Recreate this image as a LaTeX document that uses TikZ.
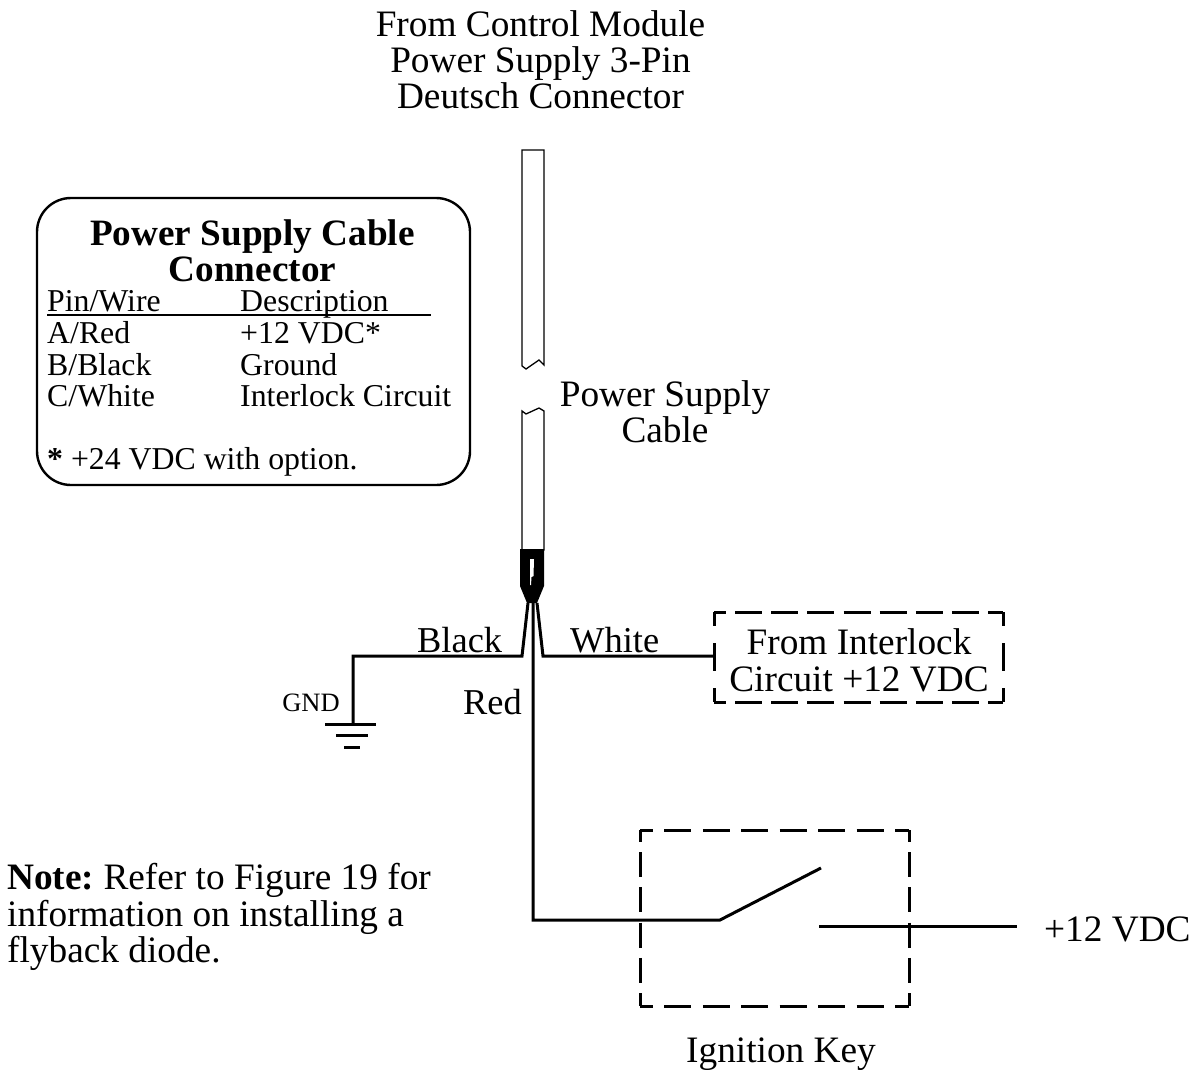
\documentclass[tikz,border=0pt]{standalone}
\usepackage{fontspec}
\setmainfont{Liberation Serif}
\frenchspacing
\begin{document}
\begin{tikzpicture}[x=1pt,y=-1pt,
  lbl/.style={inner sep=0pt,anchor=base,yshift=-0.7pt,font=\fontsize{37.3}{37.3}\selectfont},
  lblw/.style={inner sep=0pt,anchor=base west,yshift=-0.7pt,font=\fontsize{37.3}{37.3}\selectfont},
  wlbl/.style={inner sep=0pt,anchor=base west,yshift=-0.7pt,font=\fontsize{36.4}{36.4}\selectfont},
  tbl/.style={inner sep=0pt,anchor=base west,font=\fontsize{31.8}{31.8}\selectfont},
  ttl/.style={inner sep=0pt,anchor=base,yshift=-0.5pt,font=\fontsize{37.2}{37.2}\selectfont\bfseries},
  wire/.style={line width=3pt,line join=miter},
  cable/.style={line width=1.3pt,line join=miter},
  ikh/.style={draw,line width=3pt,dash pattern=on 27pt off 11.43pt,dash phase=14pt},
  ikv/.style={draw,line width=3pt,dash pattern=on 25pt off 10.2pt,dash phase=13pt},
  ilh/.style={draw,line width=3pt,dash pattern=on 27pt off 9.125pt,dash phase=15pt},
  ilv/.style={draw,line width=3pt,dash pattern=on 28pt off 17pt,dash phase=14pt}]
\useasboundingbox (0,0) rectangle (1194,1070);
% top labels
\node[lbl] (t1) at (540.5,36) {From Control Module};
\node[lbl] (t2) at (540.5,72) {Power Supply 3-Pin};
\node[lbl] (t3) at (540.5,108) {Deutsch Connector};
% cable
\coordinate (cabA) at (522,150);
\coordinate (cabB) at (544,150);
\coordinate (cabC) at (522,550);
\coordinate (cabD) at (544,550);
\draw[cable] (522,366) -- (cabA) -- (cabB) -- (544,365) -- (539,360) -- (526,369) -- (522,366);
\draw[cable] (cabC) -- (522,411) -- (526,414) -- (539,408) -- (544,411) -- (cabD) -- cycle;
\node[lbl] (c1) at (665,406) {Power Supply};
\node[lbl] (c2) at (665,442) {Cable};
% table box
\draw[line width=2.4pt,rounded corners=34pt] (37,198) rectangle (470,485);
\node[ttl] (h1) at (252.5,245) {Power Supply Cable};
\node[ttl] (h2) at (252.5,281) {Connector};
\node[tbl] (p0) at (47,311) {Pin/Wire};
\node[tbl] (d0) at (240,311) {Description};
\coordinate (ulA) at (47,315);
\coordinate (ulB) at (431,315);
\draw[line width=1.6pt] (ulA) -- (ulB);
\node[tbl] (p1) at (47,343) {A/Red};
\node[tbl] (d1) at (240,343) {+12 VDC*};
\node[tbl] (p2) at (47,375) {B/Black};
\node[tbl] (d2) at (240,375) {Ground};
\node[tbl] (p3) at (47,406) {C/White};
\node[tbl] (d3) at (240,406) {Interlock Circuit};
\node[tbl] (st) at (47,469) {\textbf{*} +24 VDC with option.};
% boot
\fill (520,549) -- (544,549) -- (544,586) -- (537,603) -- (527,603) -- (520,586) -- cycle;
\fill[white] (530,559) -- (534,559) -- (533.5,576) -- (531.5,577) -- (531,585) -- (530,585) -- cycle;
% wires
\coordinate (blk0) at (528,603);
\coordinate (blk1) at (522,656);
\coordinate (blk2) at (353,656);
\coordinate (gnd) at (353,724);
\draw[wire] (blk0) -- (blk1) -- (blk2) -- (gnd);
\draw[line width=3pt] (325,724) -- (376,724) (336,735) -- (368,735) (344,747) -- (360,747);
\node[inner sep=0pt,anchor=base,font=\fontsize{26.5}{26.5}\selectfont] (gl) at (311,711) {GND};
\coordinate (wht0) at (537,603);
\coordinate (wht1) at (543,656);
\node[wlbl] (bk) at (417,652) {Black};
\node[wlbl] (wh) at (570,652) {White};
\node[wlbl] (rd) at (463,714) {Red};
% interlock box
\coordinate (ila) at (714,612);
\coordinate (ilb) at (1003,612);
\coordinate (ilc) at (1003,702);
\coordinate (ild) at (714,702);
\draw[ilh] (ila) -- (ilb);
\draw[ilh] (ild) -- (ilc);
\draw[ilv] (ila) -- (ild);
\draw[ilv] (ilb) -- (ilc);
\coordinate (intl) at (714,656);
\draw[wire] (wht0) -- (wht1) -- (intl);
\node[lbl] (i1) at (859,654) {From Interlock};
\node[lbl] (i2) at (859,691) {Circuit +12 VDC};
% red and key
\coordinate (red0) at (533,603);
\coordinate (red1) at (533,920);
\coordinate (sw0) at (720,920);
\coordinate (sw1) at (821,868);
\draw[wire] (red0) -- (red1) -- (sw0) -- (sw1);
\coordinate (ika) at (640,830);
\coordinate (ikb) at (909,830);
\coordinate (ikc) at (909,1006);
\coordinate (ikd) at (640,1006);
\draw[ikh] (ika) -- (ikb);
\draw[ikh] (ikd) -- (ikc);
\draw[ikv] (ika) -- (ikd);
\draw[ikv] (ikb) -- (ikc);
\coordinate (sw2) at (819,926);
\coordinate (sw3) at (1017,926);
\draw[wire] (sw2) -- (sw3);
\node[lblw] (v12) at (1044,941) {+12 VDC};
\node[lbl] (ik) at (781,1062) {Ignition Key};
% note
\node[lblw] (n1) at (7,889) {\textbf{Note:} Refer to Figure 19 for};
\node[lblw] (n2) at (7,926) {information on installing a};
\node[lblw] (n3) at (7,962) {flyback diode.};
\end{tikzpicture}
\end{document}
